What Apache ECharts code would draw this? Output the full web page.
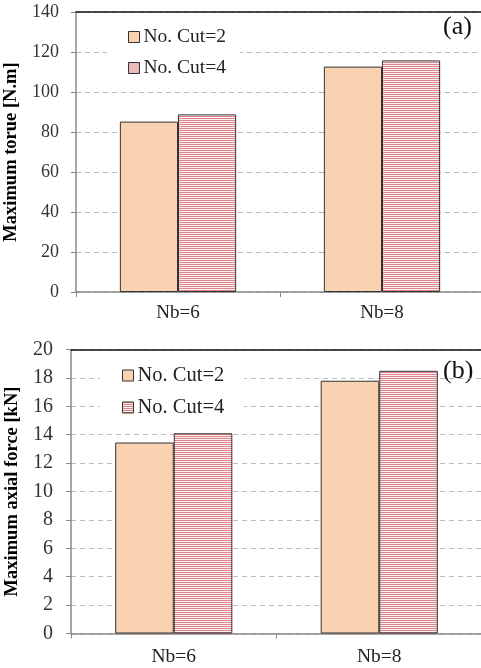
<!DOCTYPE html>
<html><head><meta charset="utf-8">
<script src="https://cdn.jsdelivr.net/npm/echarts@6/dist/echarts.min.js"></script>
<style>html,body{margin:0;padding:0;background:#fff}#c{width:481px;height:668px}</style>
</head><body><div id="c"></div>
<script>
const categories = ['Nb=6', 'Nb=8'];
const seriesNames = ['No. Cut=2', 'No. Cut=4'];
const torqueCut2 = [85.2, 112.7];
const torqueCut4 = [88.8, 115.8];
const forceCut2 = [13.45, 17.8];
const forceCut4 = [14.1, 18.5];
const torqueTicks = {min: 0, max: 140, interval: 20};
const forceTicks = {min: 0, max: 20, interval: 2};

const cv = document.createElement('canvas');
cv.width = 4; cv.height = 2;
const cx = cv.getContext('2d');
cx.fillStyle = '#fbf0f0'; cx.fillRect(0, 0, 4, 2);
cx.fillStyle = '#e0848c'; cx.fillRect(0, 0, 4, 1);

const peach = '#f9d2b2';
const stripe = {image: cv, repeat: 'repeat'};
const font = 'Liberation Serif';

function yAxis(idx, name, t, gap, labelSize, margin) {
  return {
    gridIndex: idx, type: 'value', min: t.min, max: t.max, interval: t.interval,
    name: name, nameLocation: 'middle', nameGap: gap,
    nameTextStyle: {fontFamily: font, fontWeight: 'bold', fontSize: 18.5, color: '#000'},
    axisLine: {show: true, lineStyle: {color: '#888', width: 1.5}},
    axisTick: {show: true, length: 5, lineStyle: {color: '#888'}},
    axisLabel: {fontFamily: font, fontSize: labelSize, color: '#333', margin: margin},
    splitLine: {show: true, lineStyle: {color: '#bbb', type: [5, 4], width: 1}}
  };
}
function xAxis(idx, size, margin) {
  return {
    gridIndex: idx, type: 'category', data: categories,
    axisLine: {show: true, lineStyle: {color: '#888', width: 1.5}},
    axisTick: {show: true, length: 5, lineStyle: {color: '#888'}},
    axisLabel: {fontFamily: font, fontSize: size, color: '#222', margin: margin}
  };
}
function topLine(idx) {
  return {
    gridIndex: idx, type: 'category', position: 'top', data: categories,
    axisLine: {show: true, lineStyle: {color: '#111', width: 1.5}},
    axisTick: {show: false}, axisLabel: {show: false}
  };
}
function bar(name, data, color, xi, yi) {
  return {
    name: name, type: 'bar', data: data, xAxisIndex: xi, yAxisIndex: yi,
    barGap: '0%', barCategoryGap: '43%',
    itemStyle: {color: color, borderColor: '#333', borderWidth: 1}
  };
}
function legend(top, left, size, padding, gap) {
  return {
    data: seriesNames, orient: 'vertical', top: top, left: left,
    icon: 'rect', itemWidth: 11, itemHeight: 11, itemGap: gap,
    backgroundColor: '#fff', padding: padding,
    itemStyle: {borderColor: '#333', borderWidth: 1},
    textStyle: {fontFamily: font, fontSize: size, color: '#222', padding: [0, 0, 0, -1]}
  };
}

const chart = echarts.init(document.getElementById('c'));
chart.setOption({
  animation: false,
  textStyle: {fontFamily: font},
  grid: [
    {left: 76, top: 12, width: 408, height: 280, containLabel: false, outerBoundsMode: 'none'},
    {left: 71, top: 349.5, width: 411, height: 284, containLabel: false, outerBoundsMode: 'none'}
  ],
  xAxis: [xAxis(0, 19, 12), xAxis(1, 19.5, 13), topLine(0), topLine(1)],
  yAxis: [
    yAxis(0, 'Maximum torue [N.m]', torqueTicks, 43, 18, 17),
    yAxis(1, 'Maximum axial force [kN]', forceTicks, 38, 20, 18)
  ],
  legend: [
    legend(23, 107, 19.5, [4, 14, 4, 21], 11),
    legend(361, 100, 20.5, [4, 20, 4, 22], 11)
  ],
  graphic: [
    {type: 'text', left: 443, top: 14, style: {text: '(a)', font: '26px "Liberation Serif"', fill: '#111'}},
    {type: 'text', left: 443, top: 358, style: {text: '(b)', font: '26px "Liberation Serif"', fill: '#111'}}
  ],
  series: [
    bar(seriesNames[0], torqueCut2, peach, 0, 0),
    bar(seriesNames[1], torqueCut4, stripe, 0, 0),
    bar(seriesNames[0], forceCut2, peach, 1, 1),
    bar(seriesNames[1], forceCut4, stripe, 1, 1)
  ]
});
</script></body></html>
